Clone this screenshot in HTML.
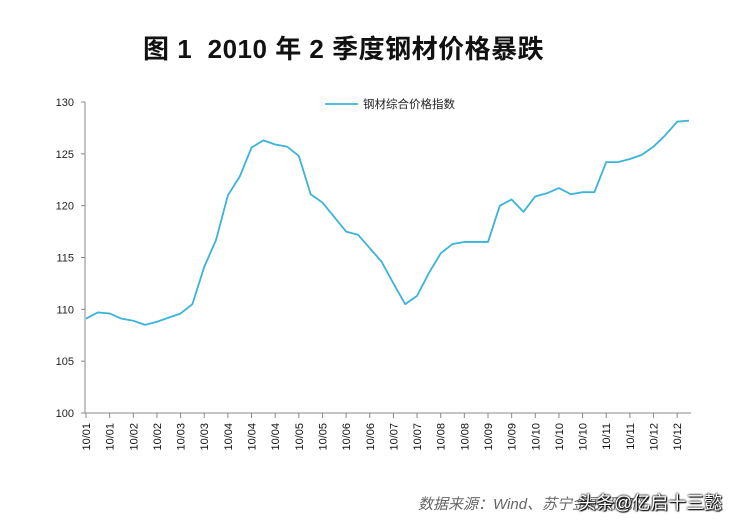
<!DOCTYPE html>
<html><head><meta charset="utf-8"><style>
html,body{margin:0;padding:0;background:#fff;}
body{width:746px;height:526px;overflow:hidden;position:relative;font-family:"Liberation Sans","Noto Sans CJK SC",sans-serif;}
#title{position:absolute;left:143px;top:29px;font-weight:bold;font-size:26px;color:#111;letter-spacing:0.5px;white-space:nowrap;}
#source{position:absolute;left:418px;top:493px;font-style:italic;font-size:15px;color:#666;}
#wm{position:absolute;left:578px;top:489px;font-size:18px;color:#fff;text-shadow:0 0 2px #000,0 0 2px #000,1px 1px 1px #000;}
</style></head><body>
<div id="title">图 1&nbsp; 2010 年 2 季度钢材价格暴跌</div>
<svg id="chart" width="746" height="526" style="position:absolute;left:0;top:0"></svg>
<div id="source">数据来源：Wind、苏宁金融研究院</div>
<div id="wm">头条@亿启十三懿</div>
<script>
const yTicks=[100,105,110,115,120,125,130];
const xLabels=["10/01","10/01","10/02","10/02","10/03","10/03","10/04","10/04","10/04","10/05","10/05","10/06","10/06","10/07","10/07","10/08","10/08","10/09","10/09","10/10","10/10","10/10","10/11","10/11","10/12","10/12"];
const values=[109.1,109.7,109.6,109.1,108.9,108.5,108.8,109.2,109.6,110.5,114.1,116.7,121.0,122.8,125.6,126.3,125.9,125.7,124.8,121.1,120.3,118.9,117.5,117.2,115.9,114.6,112.5,110.5,111.3,113.5,115.4,116.3,116.5,116.5,116.5,120.0,120.6,119.4,120.9,121.2,121.7,121.1,121.3,121.3,124.2,124.2,124.5,124.9,125.7,126.8,128.1,128.2];
const seriesName="钢材综合价格指数";
const NS="http://www.w3.org/2000/svg";
const svg=document.getElementById('chart');
const x0=86,x1=689,yTop=102,yBot=413;
const yMin=100,yMax=130;
function sy(v){return yBot-(v-yMin)/(yMax-yMin)*(yBot-yTop);}
function sx(i){return x0+i*(x1-x0)/(values.length-1);}
function mk(t,a){const e=document.createElementNS(NS,t);for(const k in a)e.setAttribute(k,a[k]);svg.appendChild(e);return e;}
const yAxis=mk('line',{x1:x0-1,y1:yTop,x2:x0-1,y2:yBot,stroke:'#888','stroke-width':1});


const xAxis=mk('line',{x1:x0-1,y1:yBot,x2:x1+2,y2:yBot,stroke:'#888','stroke-width':1});


yTicks.forEach(v=>{
  const y=sy(v);
  mk('line',{x1:x0-5,y1:y,x2:x0-1,y2:y,stroke:'#888'});
  const t=mk('text',{x:x0-12,y:y+4,'text-anchor':'end','font-size':11,fill:'#222'});
  t.textContent=v;
  
  
});
xLabels.forEach((l,j)=>{
  const x=sx(j*2);
  mk('line',{x1:x,y1:yBot,x2:x,y2:yBot+5,stroke:'#888'});
  const t=mk('text',{transform:`translate(${x+4},${yBot+10}) rotate(-90)`,'text-anchor':'end','font-size':11,fill:'#111'});
  t.textContent=l;
  
  
});
const line=mk('polyline',{points:values.map((v,i)=>sx(i)+','+sy(v)).join(' '),fill:'none',stroke:'#3ab4d8','stroke-width':1.8,'stroke-linejoin':'round'});


const lg=mk('line',{x1:325,y1:104,x2:358,y2:104,stroke:'#3ab4d8','stroke-width':1.8});


const lt=mk('text',{x:363,y:108,'font-size':11.5,fill:'#222'});
lt.textContent=seriesName;


</script>
</body></html>
